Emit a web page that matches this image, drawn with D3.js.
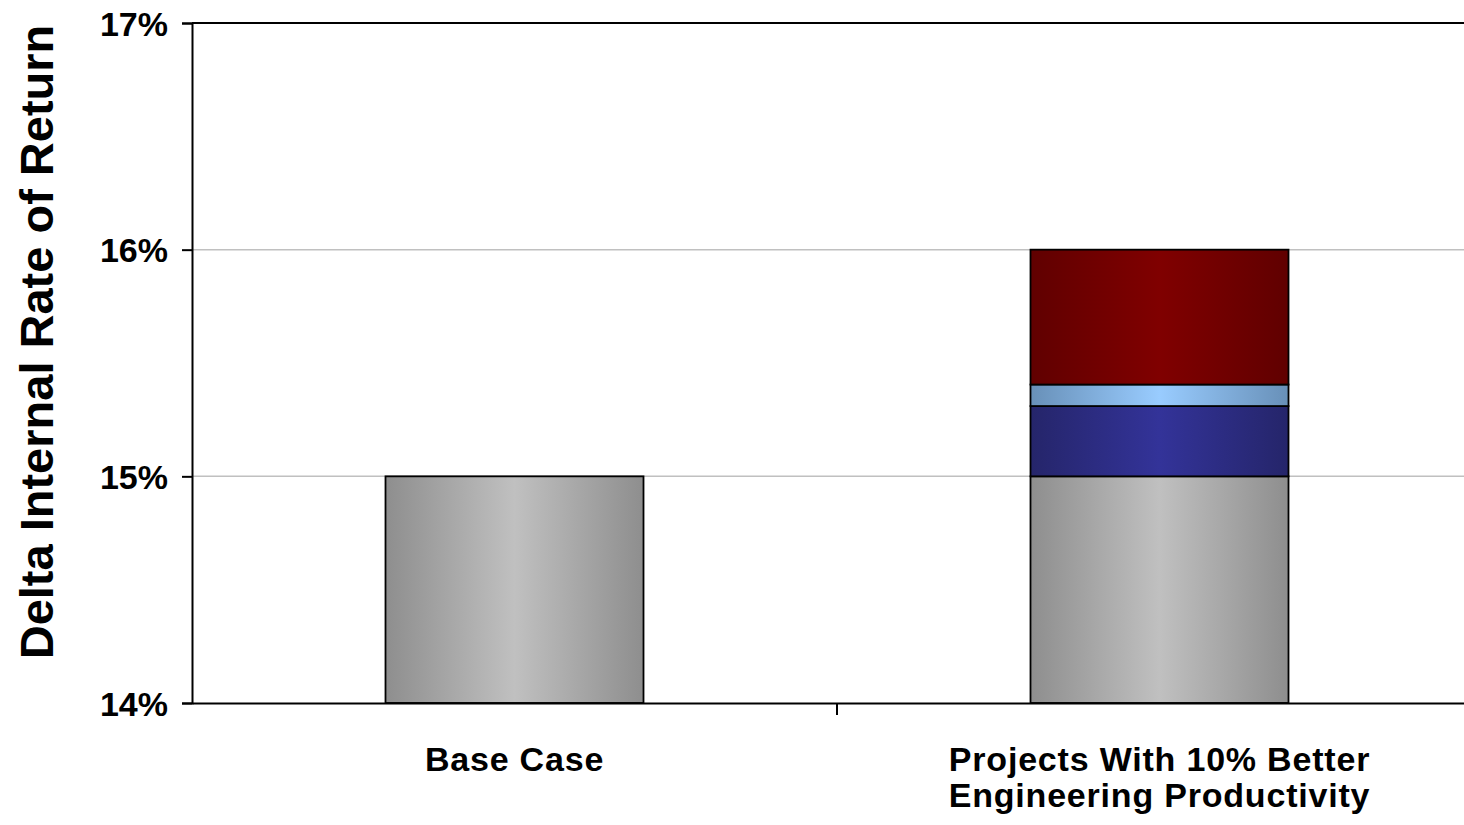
<!DOCTYPE html>
<html>
<head>
<meta charset="utf-8">
<script src="https://cdn.jsdelivr.net/npm/d3@7"></script>
<style>
  html, body { margin: 0; padding: 0; background: #ffffff; }
  svg { display: block; }
  text { font-family: "Liberation Sans", Arial, sans-serif; font-weight: bold; fill: #000; }
</style>
</head>
<body>
<svg id="chart" width="1464" height="825"></svg>
<script>
// Categories and stacked segments (IRR in percent)
const categories = ["Base Case", "Projects With 10% Better\nEngineering Productivity"];
const seriesNames = ["Base", "Productivity A", "Productivity B", "Productivity C"];
const baseValues  = [15.0, 15.0];
const segA        = [0, 0.31];
const segB        = [0, 0.095];
const segC        = [0, 0.595];
const yTicks = [14, 15, 16, 17];
const yDomain = [14, 17];

const palette = {
  "Base":           { edge: "#8e8e8e", mid: "#c0c0c0" },
  "Productivity A": { edge: "#25256a", mid: "#333399" },
  "Productivity B": { edge: "#6890b8", mid: "#99ccff" },
  "Productivity C": { edge: "#600000", mid: "#800000" }
};

const svg = d3.select("#chart");
const margin = { left: 192, top: 23, bottom: 703 };
const plotRight = 1482;

const x = d3.scaleBand().domain(categories).range([margin.left, plotRight]).padding(0);
const y = d3.scaleLinear().domain(yDomain).range([margin.bottom, margin.top]);
const barW = x.bandwidth() * 0.4;

// Horizontal shading for each series
const defs = svg.append("defs");
seriesNames.forEach((name, i) => {
  const g = defs.append("linearGradient").attr("id", "grad" + i)
    .attr("x1", "0%").attr("x2", "100%").attr("y1", "0%").attr("y2", "0%");
  g.append("stop").attr("offset", "0%").attr("stop-color", palette[name].edge);
  g.append("stop").attr("offset", "50%").attr("stop-color", palette[name].mid);
  g.append("stop").attr("offset", "100%").attr("stop-color", palette[name].edge);
});

// Gridlines
svg.append("g").selectAll("line").data(yTicks.filter(t => t > yDomain[0] && t < yDomain[1]))
  .join("line")
  .attr("x1", margin.left).attr("x2", 1464)
  .attr("y1", d => y(d)).attr("y2", d => y(d))
  .attr("stroke", "#c0c0c0").attr("stroke-width", 1.5);

// Top border of plot
svg.append("line")
  .attr("x1", margin.left).attr("x2", 1464)
  .attr("y1", y(yDomain[1])).attr("y2", y(yDomain[1]))
  .attr("stroke", "#000").attr("stroke-width", 2);

// Stacked data
const rows = categories.map((c, i) => ({
  cat: c,
  "Base": baseValues[i] - yDomain[0],
  "Productivity A": segA[i],
  "Productivity B": segB[i],
  "Productivity C": segC[i]
}));
const stacked = d3.stack().keys(seriesNames)(rows);

stacked.forEach((layer, li) => {
  svg.append("g").selectAll("rect")
    .data(layer.filter(d => d[1] - d[0] > 0))
    .join("rect")
    .attr("x", d => x(d.data.cat) + (x.bandwidth() - barW) / 2)
    .attr("width", barW)
    .attr("y", d => y(yDomain[0] + d[1]))
    .attr("height", d => y(yDomain[0] + d[0]) - y(yDomain[0] + d[1]))
    .attr("fill", "url(#grad" + li + ")")
    .attr("stroke", "#000").attr("stroke-width", 1.8);
});

// Y axis
const yAxis = svg.append("g")
  .attr("transform", `translate(${margin.left},0)`)
  .call(d3.axisLeft(y).tickValues(yTicks).tickFormat(d => d + "%").tickSize(10).tickPadding(14));
yAxis.select(".domain").attr("stroke", "#000").attr("stroke-width", 2);
yAxis.selectAll(".tick line").attr("stroke", "#000").attr("stroke-width", 2);
yAxis.selectAll(".tick text")
  .style("font-family", "'Liberation Sans', Arial, sans-serif")
  .style("font-weight", "bold").style("font-size", "34px")
  .attr("dy", "0.36em");

// X axis
const xAxis = svg.append("g")
  .attr("transform", `translate(0,${margin.bottom})`)
  .call(d3.axisBottom(x).tickSize(0).tickFormat(""));
xAxis.select(".domain").attr("stroke", "#000").attr("stroke-width", 2);
xAxis.append("line")
  .attr("x1", x(categories[1])).attr("x2", x(categories[1]))
  .attr("y1", 0).attr("y2", 12)
  .attr("stroke", "#000").attr("stroke-width", 2);

// Category labels
categories.forEach(c => {
  const lines = c.split("\n");
  const t = svg.append("text")
    .attr("text-anchor", "middle")
    .style("font-size", "34px")
    .style("letter-spacing", "0.8px");
  lines.forEach((ln, i) => {
    t.append("tspan")
      .attr("x", x(c) + x.bandwidth() / 2)
      .attr("y", 771 + i * 36)
      .text(ln);
  });
});

// Y axis title
svg.append("text")
  .attr("transform", `translate(53,${(margin.top + margin.bottom) / 2 - 21}) rotate(-90)`)
  .attr("text-anchor", "middle")
  .style("font-size", "47px")
  .text("Delta Internal Rate of Return");
</script>
</body>
</html>
